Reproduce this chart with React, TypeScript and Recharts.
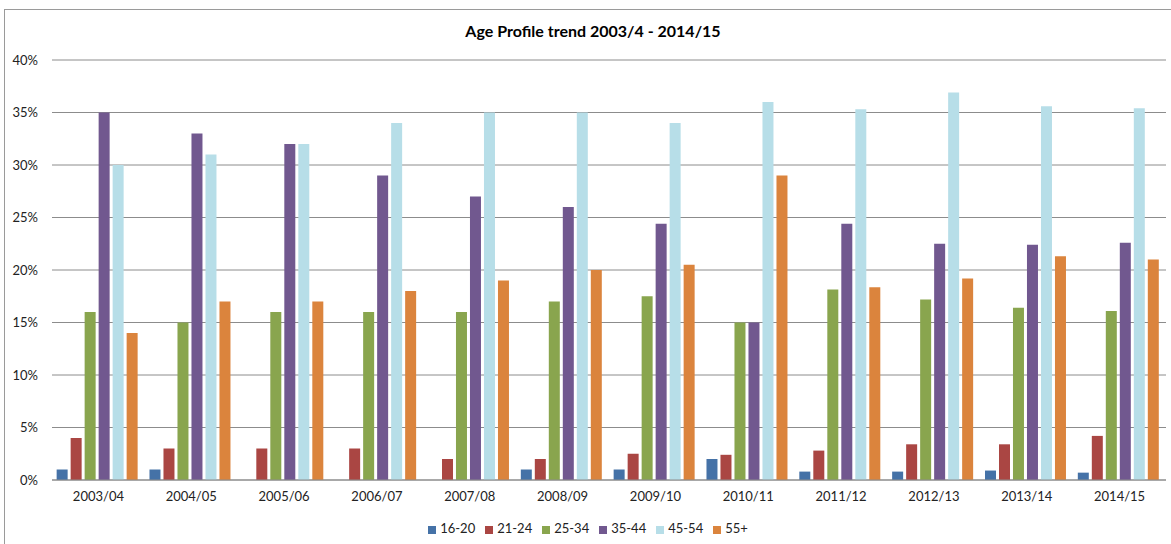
import React from 'react';
import { BarChart, Bar, XAxis, YAxis, CartesianGrid, Legend } from 'recharts';

const categories = ['2003/04', '2004/05', '2005/06', '2006/07', '2007/08', '2008/09', '2009/10', '2010/11', '2011/12', '2012/13', '2013/14', '2014/15'];
const s16_20 = [1, 1, 0, 0, 0, 1, 1, 2, 0.8, 0.8, 0.9, 0.7];
const s21_24 = [4, 3, 3, 3, 2, 2, 2.5, 2.4, 2.8, 3.4, 3.4, 4.2];
const s25_34 = [16, 15, 16, 16, 16, 17, 17.5, 15, 18.15, 17.2, 16.4, 16.1];
const s35_44 = [35, 33, 32, 29, 27, 26, 24.4, 15, 24.4, 22.5, 22.4, 22.6];
const s45_54 = [30, 31, 32, 34, 35, 35, 34, 36, 35.3, 36.9, 35.6, 35.4];
const s55p = [14, 17, 17, 18, 19, 20, 20.5, 29, 18.35, 19.2, 21.3, 21.0];
const yTicks = [0, 5, 10, 15, 20, 25, 30, 35, 40];

const seriesNames = ['16-20', '21-24', '25-34', '35-44', '45-54', '55+'];
const seriesValues = [s16_20, s21_24, s25_34, s35_44, s45_54, s55p];
const colors = ['#4572A7', '#AA4643', '#89A54E', '#71588F', '#B7DEE8', '#DB843D'];

const data = categories.map((c, i) => {
  const row: Record<string, any> = { cat: c };
  seriesNames.forEach((n, k) => { row[n] = seriesValues[k][i]; });
  return row;
});

const FONT = 'Lato, "Liberation Sans", sans-serif';

export default function App() {
  return (
    <div style={{ position: 'absolute', left: 0, top: 0, width: 1171, height: 544, overflow: 'hidden', background: '#fff', fontFamily: FONT }}>
      <div style={{ position: 'absolute', left: 4, top: 9, width: 1300, height: 700, border: '1px solid #9a9a9a' }} />
      <div style={{ position: 'absolute', left: 0, top: 21, width: 1186, textAlign: 'center', fontWeight: 700, fontSize: 16, color: '#000' }}>
        Age Profile trend 2003/4 - 2014/15
      </div>
      <div style={{ position: 'absolute', left: 0, top: 0 }}>
        <BarChart width={1171} height={544} data={data} margin={{ top: 60, right: 5, left: 0, bottom: 0 }} barCategoryGap="5%" barGap={3}>
          <CartesianGrid vertical={false} stroke="#8c8c8c" />
          <XAxis dataKey="cat" height={30} tickLine={false} axisLine={{ stroke: '#8c8c8c' }} tick={{ fontSize: 13, fill: '#222', fontFamily: FONT }} tickMargin={6} interval={0} />
          <YAxis width={52} domain={[0, 40]} ticks={yTicks} tickFormatter={(v: number) => `${v}%`} axisLine={false} tickLine={false} tickSize={6} tickMargin={8} tick={{ fontSize: 13, fill: '#222', fontFamily: FONT }} />
          <Legend verticalAlign="bottom" align="center" height={34} iconType="square" iconSize={8}
            wrapperStyle={{ fontSize: 13, fontFamily: FONT, color: '#222', left: 10, top: 520 }}
            formatter={(v: string) => <span style={{ color: '#222' }}>{v}</span>} />
          {seriesNames.map((n, k) => (
            <Bar key={n} dataKey={n} fill={colors[k]} isAnimationActive={false} />
          ))}
        </BarChart>
      </div>
    </div>
  );
}
